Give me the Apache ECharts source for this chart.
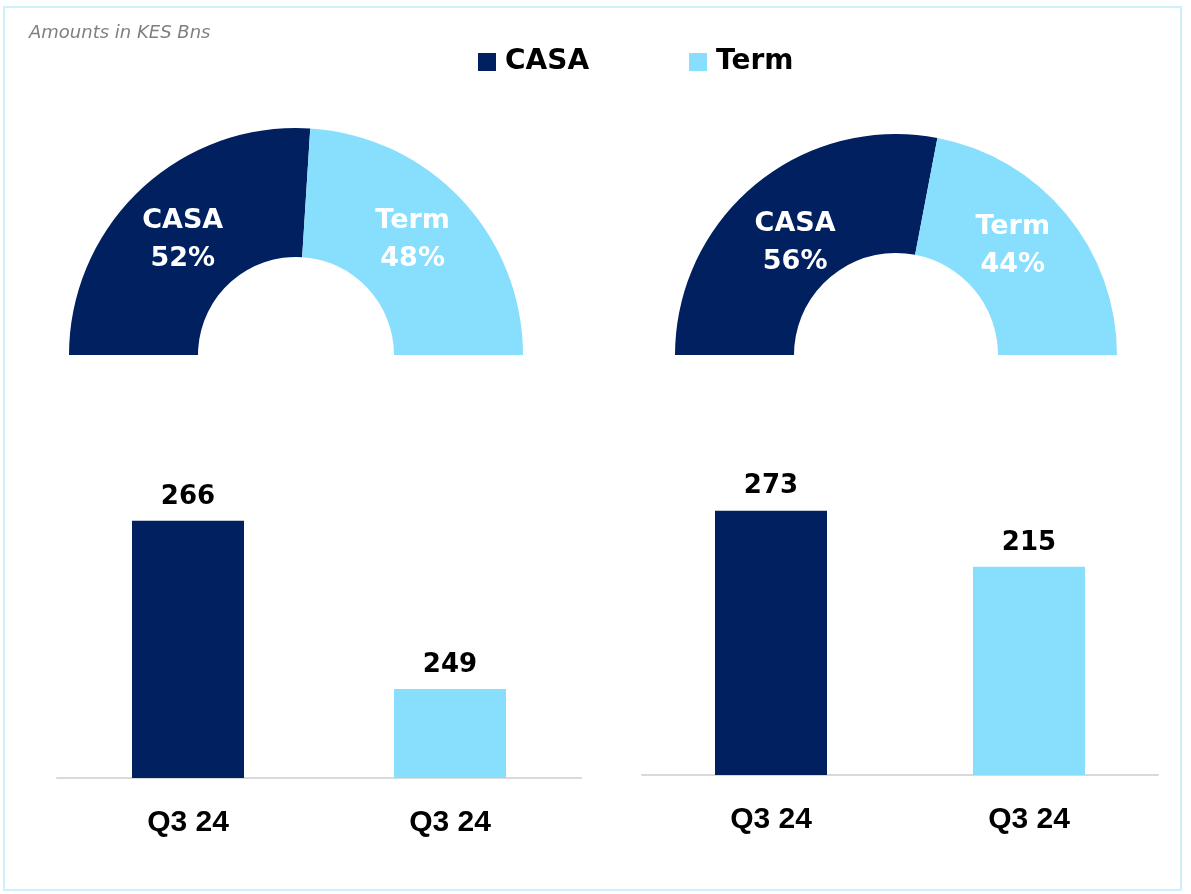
<!DOCTYPE html>
<html>
<head>
<meta charset="utf-8">
<title>CASA vs Term deposits</title>
<script src="https://cdn.jsdelivr.net/npm/echarts@6/dist/echarts.min.js"></script>
<style>
  html, body { margin: 0; padding: 0; background: #ffffff; }
  #chart { width: 1191px; height: 894px; }
</style>
</head>
<body>
<div id="chart"></div>
<script>
// Deposit mix, amounts in KES billions
const seriesNames = ['CASA', 'Term'];
const categories = ['Q3 24', 'Q3 24'];
const leftShare = [52, 48];
const rightShare = [56, 44];
const leftAmounts = [266, 249];
const rightAmounts = [273, 215];

const NAVY = '#002060';
const SKY = '#87DEFD';
const palette = [NAVY, SKY];
const geo = "'DejaVu Sans', 'Noto Sans', sans-serif";
const plain = "'Liberation Sans', Arial, sans-serif";

const chart = echarts.init(document.getElementById('chart'), null, { renderer: 'canvas' });

// labelShift nudges each slice label so both lines sit level inside the ring
function halfDonut(shares, center, radius, labelShift) {
  return {
    type: 'pie',
    center: center,
    radius: radius,
    startAngle: 180,
    endAngle: 0,
    clockwise: true,
    silent: true,
    label: {
      show: true,
      position: 'inside',
      formatter: p => p.name + '\n' + p.value + '%',
      color: '#ffffff',
      fontFamily: geo,
      fontWeight: 'bold',
      fontSize: 27,
      lineHeight: 38
    },
    labelLine: { show: false },
    itemStyle: { borderWidth: 0 },
    data: shares.map((v, i) => ({
      name: seriesNames[i],
      value: v,
      itemStyle: { color: palette[i] },
      label: { offset: labelShift[i] }
    }))
  };
}

function barSeries(values, gridIdx) {
  return {
    type: 'bar',
    xAxisIndex: gridIdx,
    yAxisIndex: gridIdx,
    barWidth: 112,
    silent: true,
    label: {
      show: true,
      position: 'top',
      distance: 11,
      color: '#000000',
      fontFamily: geo,
      fontWeight: 'bold',
      fontSize: 26
    },
    data: values.map((v, i) => ({ value: v, itemStyle: { color: palette[i] } }))
  };
}

function catAxis(gridIdx, margin) {
  return {
    type: 'category',
    gridIndex: gridIdx,
    data: categories,
    axisTick: { show: false },
    axisLine: { show: true, lineStyle: { color: '#d9d9d9', width: 2 } },
    axisLabel: {
      color: '#000000',
      fontFamily: plain,
      fontWeight: 'bold',
      fontSize: 30,
      margin: margin
    }
  };
}

chart.setOption({
  backgroundColor: '#ffffff',
  animation: false,
  color: palette,
  title: {
    text: 'Amounts in KES Bns',
    left: 24,
    top: 19,
    textStyle: {
      fontFamily: geo,
      fontStyle: 'italic',
      fontWeight: 'normal',
      fontSize: 18,
      color: '#7f7f7f'
    }
  },
  legend: {
    data: seriesNames,
    left: 473,
    top: 43,
    icon: 'rect',
    itemWidth: 18,
    itemHeight: 18,
    itemGap: 100,
    selectedMode: false,
    textStyle: {
      fontFamily: geo,
      fontWeight: 'bold',
      fontSize: 28,
      color: '#000000',
      padding: [0, 0, 0, 4]
    }
  },
  graphic: [{
    type: 'rect',
    silent: true,
    shape: { x: 4, y: 7, width: 1177, height: 883 },
    style: { fill: 'none', stroke: '#cdf0fb', lineWidth: 2 }
  }],
  grid: [
    { left: 57, width: 524, top: 501, height: 277 },
    { left: 642, width: 516, top: 502, height: 273 }
  ],
  xAxis: [catAxis(0, 30), catAxis(1, 30)],
  yAxis: [
    { type: 'value', gridIndex: 0, min: 240, max: 268, show: false, splitLine: { show: false } },
    { type: 'value', gridIndex: 1, min: 0, max: 282, show: false, splitLine: { show: false } }
  ],
  series: [
    halfDonut(leftShare, [296, 355], [98, 227], [[0, 6], [-4, -2]]),
    halfDonut(rightShare, [896, 355], [102, 221], [[4, 15], [-10, -4]]),
    barSeries(leftAmounts, 0),
    barSeries(rightAmounts, 1)
  ]
});
</script>
</body>
</html>
